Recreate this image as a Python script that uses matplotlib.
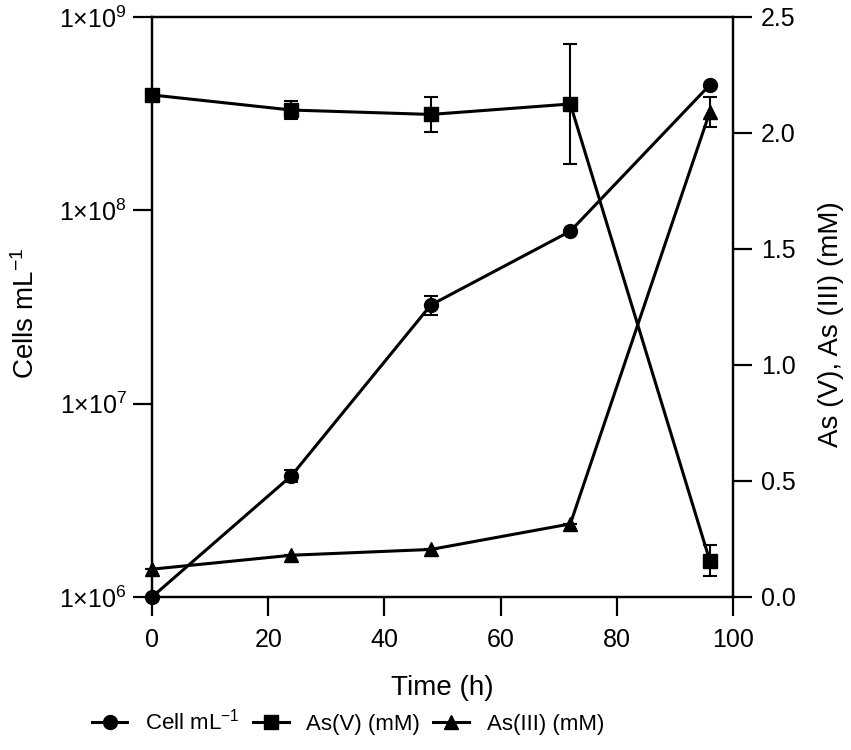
import math
import matplotlib
matplotlib.use("Agg")
import matplotlib.pyplot as plt
from matplotlib.ticker import FixedLocator, FuncFormatter, NullLocator
from matplotlib.lines import Line2D

plt.rcParams['font.family'] = ['Liberation Sans', 'DejaVu Sans']
plt.rcParams['mathtext.fontset'] = 'custom'
plt.rcParams['mathtext.rm'] = 'Liberation Sans'
plt.rcParams['mathtext.it'] = 'Liberation Sans:italic'
plt.rcParams['mathtext.bf'] = 'Liberation Sans:bold'

# data
time_h = [0, 24, 48, 72, 96]
cells = [1.0e6, 4.24e6, 3.24e7, 7.8e7, 4.45e8]
cells_err = [0, 0.3e6, 3.5e6, 0, 0]
as_v = [2.164, 2.099, 2.08, 2.125, 0.157]
as_v_err = [0, 0.04, 0.074, 0.26, 0.067]
as_iii = [0.12, 0.18, 0.205, 0.315, 2.09]
as_iii_err = [0, 0, 0, 0, 0.065]

lw = 2.2
ms = 10
tick_fs = 18
label_fs = 20
legend_fs = 16

fig = plt.figure(figsize=(8.51, 7.5), dpi=100)
ax = fig.add_axes([152 / 851, 1 - 597 / 750, (733 - 152) / 851, (597 - 17) / 750])
ax2 = ax.twinx()

ax.errorbar(time_h, cells, yerr=cells_err, color='black', lw=lw, marker='o',
            ms=ms, capsize=5, elinewidth=1.5, capthick=1.5, clip_on=False, zorder=3)
ax2.errorbar(time_h, as_v, yerr=as_v_err, color='black', lw=lw, marker='s',
             ms=ms, capsize=5, elinewidth=1.5, capthick=1.5, clip_on=False, zorder=3)
ax2.errorbar(time_h, as_iii, yerr=as_iii_err, color='black', lw=lw, marker='^',
             ms=ms, capsize=5, elinewidth=1.5, capthick=1.5, clip_on=False, zorder=3)

ax.set_yscale('log')
ax.set_ylim(1e6, 1e9)
ax.set_xlim(0, 100)
ax.yaxis.set_major_locator(FixedLocator([1e6, 1e7, 1e8, 1e9]))
ax.yaxis.set_minor_locator(NullLocator())
ax.yaxis.set_major_formatter(FuncFormatter(lambda v, p: r'1×10$^{%d}$' % round(math.log10(v))))
ax.set_xticks([0, 20, 40, 60, 80, 100])

ax2.set_ylim(0, 2.5)
ax2.set_yticks([0.0, 0.5, 1.0, 1.5, 2.0, 2.5])
ax2.yaxis.set_major_formatter(FuncFormatter(lambda v, p: '%.1f' % v))

for a in (ax, ax2):
    for s in a.spines.values():
        s.set_linewidth(1.6)
    a.tick_params(axis='both', which='major', length=14, width=1.6,
                  labelsize=tick_fs, direction='out')
ax.tick_params(axis='x', pad=8)
ax.tick_params(axis='y', pad=4)
ax2.tick_params(axis='y', pad=6)

ax.set_xlabel('Time (h)', fontsize=label_fs)
ax.xaxis.set_label_coords(0.5, -(675 - 597) / 580)
ax.set_ylabel('Cells mL$^{-1}$', fontsize=label_fs)
ax.yaxis.set_label_coords((40 - 152) / 581, 0.49)
ax2.set_ylabel('As (V), As (III) (mM)', fontsize=label_fs, rotation=90)
ax2.yaxis.set_label_coords((818 - 152) / 581, 0.47)

handles = [
    Line2D([], [], color='black', lw=lw, marker='o', ms=ms),
    Line2D([], [], color='black', lw=lw, marker='s', ms=ms),
    Line2D([], [], color='black', lw=lw, marker='^', ms=ms),
]
labels = ['Cell mL$^{-1}$', 'As(V) (mM)', 'As(III) (mM)']
fig.legend(handles, labels, loc='center', bbox_to_anchor=(348 / 851, 1 - 722 / 750),
           ncol=3, frameon=False, fontsize=legend_fs, handlelength=1.6,
           columnspacing=0.6, handletextpad=0.8)

fig.savefig('out.png', dpi=100)
